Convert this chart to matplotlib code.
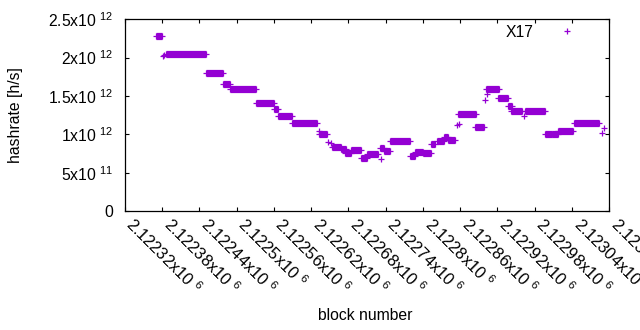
import matplotlib.pyplot as plt

plt.rcParams['font.family'] = ['Liberation Sans', 'DejaVu Sans']
plt.rcParams['mathtext.default'] = 'regular'

# Step data: runs of blocks that share one hashrate value (x10^12 h/s)
seg_start = [2122370, 2122386, 2122451, 2122478, 2122490, 2122531, 2122560, 2122567,
             2122589, 2122633, 2122654, 2122668, 2122675, 2122684, 2122700, 2122710,
             2122731, 2122737, 2122747, 2122779, 2122787, 2122800, 2122813, 2122823,
             2122834, 2122840, 2122856, 2122884, 2122902, 2122921, 2122937, 2122942,
             2122965, 2122997, 2123008, 2123017, 2123043]
seg_end = [2122380, 2122451, 2122478, 2122490, 2122531, 2122560, 2122567, 2122589,
           2122630, 2122646, 2122668, 2122676, 2122684, 2122700, 2122710, 2122728,
           2122737, 2122747, 2122779, 2122787, 2122800, 2122813, 2122819, 2122834,
           2122840, 2122852, 2122885, 2122898, 2122922, 2122937, 2122943, 2122959,
           2122997, 2123008, 2123017, 2123042, 2123083]
seg_rate = [2.285, 2.05, 1.803, 1.66, 1.585, 1.413, 1.324, 1.24,
            1.152, 1.0, 0.837, 0.807, 0.755, 0.79, 0.686, 0.74,
            0.816, 0.785, 0.907, 0.722, 0.764, 0.75, 0.876, 0.915,
            0.96, 0.92, 1.259, 1.094, 1.585, 1.48, 1.371, 1.306,
            1.298, 0.999, 1.01, 1.045, 1.142]

# single blocks that stand apart
pt_block = [2122381, 2122384, 2122633, 2122648, 2122652, 2122732, 2122855, 2122858,
            2122900, 2122903, 2122963, 2123088, 2123091]
pt_rate = [2.018, 2.038, 1.038, 0.90, 0.892, 0.673, 1.116, 1.129,
           1.449, 1.523, 1.237, 1.012, 1.085]

xtick_values = [2122320, 2122380, 2122440, 2122500, 2122560, 2122620, 2122680,
                2122740, 2122800, 2122860, 2122920, 2122980, 2123040, 2123100]
xtick_text = ['2.12232', '2.12238', '2.12244', '2.1225', '2.12256', '2.12262', '2.12268',
              '2.12274', '2.1228', '2.12286', '2.12292', '2.12298', '2.12304', '2.1231']
ytick_values = [0, 0.5e12, 1e12, 1.5e12, 2e12, 2.5e12]
ytick_text = ['0', '5x10 $^{11}$', '1x10 $^{12}$', '1.5x10 $^{12}$', '2x10 $^{12}$', '2.5x10 $^{12}$']

COLOR = '#9400d3'
FS = 11.3


def main():
    fig = plt.figure(figsize=(6.4, 3.3), dpi=100)
    ax = fig.add_axes([124.7 / 640, 1 - 211 / 330, (609.3 - 124.7) / 640, (211 - 19.3) / 330])

    # a dense run of '+' points looks like a thick bar with the arms poking out at each end
    for s, e, r in zip(seg_start, seg_end, seg_rate):
        ax.hlines(r * 1e12, s, e, color=COLOR, linewidth=5.2)
        ax.plot([s, e], [r * 1e12, r * 1e12], '+', color=COLOR, ms=5, mew=0.9)
    ax.plot(pt_block, [r * 1e12 for r in pt_rate], '+', color=COLOR,
            ms=5, mew=0.9, linestyle='none', label='X17')

    ax.set_xlim(xtick_values[0], xtick_values[-1])
    ax.set_ylim(0, 2.5e12)
    ax.set_xticks(xtick_values)
    ax.set_xticklabels([t + 'x10 $^{6}$' for t in xtick_text], rotation=-45,
                       ha='left', va='baseline', rotation_mode='anchor', fontsize=11.8)
    ax.set_yticks(ytick_values)
    ax.set_yticklabels(ytick_text, fontsize=FS)
    ax.tick_params(direction='in', top=True, right=True, length=3, width=0.8)
    ax.tick_params(axis='x', pad=10.5)
    ax.tick_params(axis='y', pad=8)
    for sp in ax.spines.values():
        sp.set_linewidth(0.9)

    ax.legend(loc='upper right', frameon=False, markerfirst=False, fontsize=FS,
              handlelength=2.7, bbox_to_anchor=(0.986, 1.046))

    fig.text(15.5 / 640, 1 - 115 / 330, 'hashrate [h/s]', rotation=90,
             ha='center', va='center', fontsize=FS)
    fig.text(365 / 640, 1 - 316 / 330, 'block number', ha='center', va='center', fontsize=FS)

    fig.savefig('out.png', dpi=100)
    plt.close(fig)


if __name__ == "__main__":
    main()
